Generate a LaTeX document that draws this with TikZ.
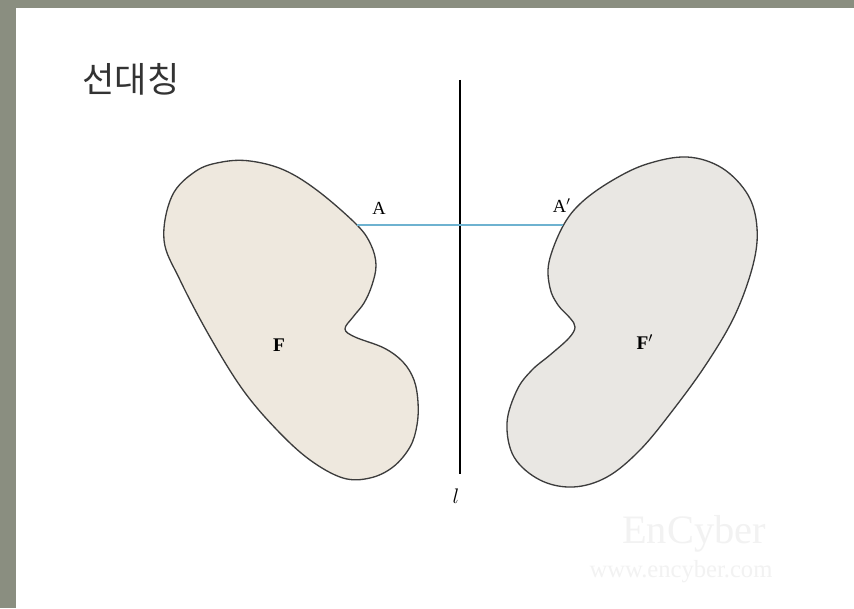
\documentclass[tikz,border=0pt]{standalone}
\usepackage{fontspec}
\setmainfont{Liberation Serif}
\newfontfamily\kofont{Noto Sans CJK KR}
\definecolor{framegray}{RGB}{138,142,128}
\definecolor{leftfill}{RGB}{238,232,222}
\definecolor{rightfill}{RGB}{233,231,227}
\definecolor{mirrorblue}{RGB}{110,178,208}
\definecolor{edgegray}{RGB}{60,60,60}

\begin{document}
\begin{tikzpicture}[x=0.02cm, y=-0.02cm,
  shapeedge/.style={draw=edgegray, line width=0.75pt},
  ptlabel/.style={font=\fontsize{10.5}{12}\selectfont, inner sep=0pt},
  figlabel/.style={font=\fontsize{11}{12}\selectfont\bfseries, inner sep=0pt}]
  \useasboundingbox (0,0) rectangle (854,608);
  % frame and paper
  \fill[framegray] (0,0) rectangle (854,608);
  \fill[white] (16,8) rectangle (854,608);
  \node[font=\kofont\fontsize{20}{22}\selectfont, text=black!80] (title) at (131,79) {선대칭};
  % watermark
  \node[font=\fontsize{23}{24}\selectfont, text=black!5] (wm) at (694,534) {EnCyber};
  \node[font=\fontsize{14}{15}\selectfont, text=black!5] (wmurl) at (681,572) {www.encyber.com};
  % figure F
  \draw[shapeedge, fill=leftfill] plot[smooth cycle, tension=0.6] coordinates {
    (250,161) (284,170) (318,191) (357,225) (371,245) (376,265) (372,285)
    (364,303) (353,317) (345,329) (355,337) (384,348) (403,362) (414,380)
    (418,402) (417,425) (410,447) (393,467) (370,478) (343,478) (310,460)
    (277,430) (243,390) (210,337) (180,280) (164,240) (172,196) (196,171)
    (222,162)};
  % figure F'
  \draw[shapeedge, fill=rightfill] plot[smooth cycle, tension=0.6] coordinates {
    (687,157) (722,168) (748,195) (757,228) (753,265) (735,315) (707,363)
    (673,410) (640,450) (607,477) (573,487) (540,480) (514,457) (507,423)
    (517,390) (532,370) (550,355) (569,338) (575,327) (570,318) (558,305)
    (550,288) (549,262) (563,226) (582,202) (613,180) (647,164)};
  % axis l
  \coordinate (ltop) at (460,80);
  \coordinate (lbot) at (460,474);
  \draw[line width=1.4pt] (ltop) -- (lbot);
  \node[font=\fontsize{12}{14}\selectfont] (lname) at (456,496) {$l$};
  % corresponding points
  \coordinate (pA) at (357,225);
  \coordinate (pA') at (563,225);
  \draw[mirrorblue, line width=0.6pt] (pA) -- (pA');
  \node[ptlabel] (labA) at (379,208) {A};
  \node[ptlabel] (labA') at (562,206) {A$'$};
  \node[figlabel] (labF) at (279,345) {F};
  \node[figlabel] (labF') at (645,342) {F$'$};
\end{tikzpicture}
\end{document}
